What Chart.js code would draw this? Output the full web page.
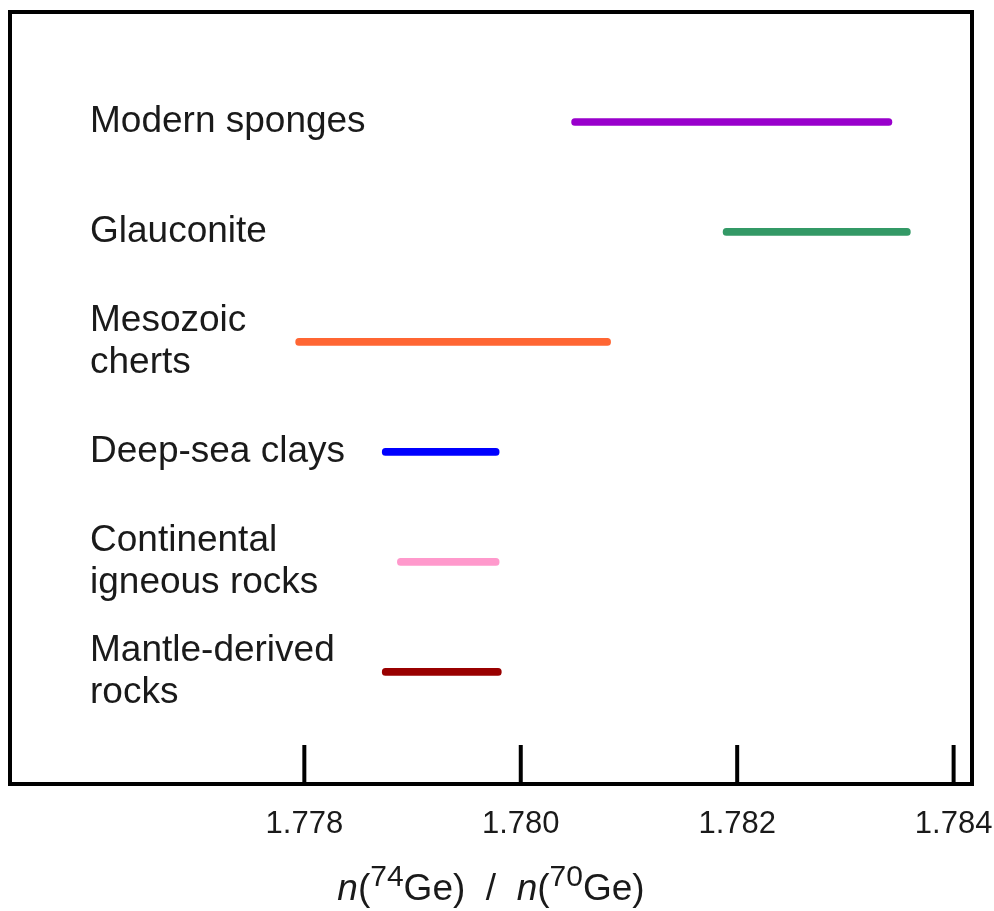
<!DOCTYPE html>
<html>
<head>
<meta charset="utf-8">
<title>Ge isotope ranges</title>
<script src="https://cdn.jsdelivr.net/npm/chart.js@4.4.1/dist/chart.umd.min.js"></script>
<style>
    html, body { margin: 0; padding: 0; background: #fff; }
    canvas { display: block; }
</style>
</head>
<body>
<canvas id="geChart" width="994" height="911"></canvas>
<script>
// Data
const categories = [
    "Modern sponges",
    "Glauconite",
    ["Mesozoic", "cherts"],
    "Deep-sea clays",
    ["Continental", "igneous rocks"],
    ["Mantle-derived", "rocks"],
];
const rangeStart = [1.78047, 1.78187, 1.77792, 1.77872, 1.77886, 1.77872];
const rangeEnd = [1.78343, 1.7836, 1.78083, 1.7798, 1.7798, 1.77982];
const barColors = ["#9900cc", "#339966", "#ff6633", "#0000ff", "#ff99cc", "#990000"];
const xTicks = [1.778, 1.78, 1.782, 1.784];

const textColor = "#1a1a1a";
const fontFamily = "'Liberation Sans', Arial, sans-serif";

// Frame round the plot area and inward tick marks
const framePlugin = {
    id: "frame",
    afterDraw(chart) {
        const { ctx, chartArea } = chart;
        const x = chart.scales.x;
        ctx.save();
        ctx.strokeStyle = "#000";
        ctx.lineWidth = 4;
        xTicks.forEach((v) => {
            const px = x.getPixelForValue(v);
            ctx.beginPath();
            ctx.moveTo(px, chartArea.bottom);
            ctx.lineTo(px, chartArea.bottom - 39);
            ctx.stroke();
        });
        ctx.strokeRect(chartArea.left, chartArea.top, chartArea.right - chartArea.left, chartArea.bottom - chartArea.top);
        ctx.restore();
    },
};

// Axis title with italic n and superscript mass numbers
const titlePlugin = {
    id: "axisTitle",
    afterDraw(chart) {
        const { ctx, chartArea } = chart;
        const main = "37px " + fontFamily;
        const ital = "italic 37px " + fontFamily;
        const sup = "30px " + fontFamily;
        const pieces = [
            [ital, "n", 0], [main, "(", 0], [sup, "74", -14], [main, "Ge)", 0],
            [main, "  /  ", 0],
            [ital, "n", 0], [main, "(", 0], [sup, "70", -14], [main, "Ge)", 0],
        ];
        ctx.save();
        ctx.fillStyle = textColor;
        ctx.textBaseline = "alphabetic";
        let total = 0;
        pieces.forEach((p) => { ctx.font = p[0]; total += ctx.measureText(p[1]).width; });
        let cx = (chartArea.left + chartArea.right) / 2 - total / 2;
        const base = 900;
        pieces.forEach((p) => {
            ctx.font = p[0];
            ctx.fillText(p[1], cx, base + p[2]);
            cx += ctx.measureText(p[1]).width;
        });
        ctx.restore();
    },
};

const ctx = document.getElementById("geChart").getContext("2d");
const geChart = new Chart(ctx, {
    type: "bar",
    data: {
        datasets: [
            {
                data: rangeStart.map((s, i) => ({ x: [s, rangeEnd[i]], y: i + 1 })),
                backgroundColor: barColors,
                barThickness: 7,
                borderRadius: 4,
                borderSkipped: false,
            },
        ],
    },
    options: {
        indexAxis: "y",
        responsive: false,
        animation: false,
        layout: {
            padding: { left: 10, top: 12, right: 22, bottom: 0 },
        },
        plugins: {
            legend: { display: false },
            tooltip: { enabled: false },
        },
        scales: {
            x: {
                type: "linear",
                min: 1.77528,
                max: 1.78417,
                afterBuildTicks: (scale) => {
                    scale.ticks = xTicks.map((v) => ({ value: v }));
                },
                afterFit: (scale) => {
                    scale.height = 127;
                    scale.paddingLeft = 0;
                    scale.paddingRight = 0;
                },
                grid: { display: false, drawTicks: false },
                border: { display: false },
                ticks: {
                    autoSkip: false,
                    maxRotation: 0,
                    padding: 22,
                    color: textColor,
                    font: { family: fontFamily, size: 31 },
                    callback: (v) => Number(v).toFixed(3),
                },
            },
            y: {
                type: "linear",
                reverse: true,
                offset: false,
                min: 0,
                max: 7.02,
                afterBuildTicks: (scale) => {
                    scale.ticks = categories.map((c, i) => ({ value: i + 1 }));
                },
                afterFit: (scale) => {
                    scale.width = 0;
                    scale.paddingTop = 0;
                    scale.paddingBottom = 0;
                },
                grid: { display: false, drawTicks: false },
                border: { display: false },
                ticks: {
                    mirror: true,
                    autoSkip: false,
                    padding: 80,
                    color: textColor,
                    font: { family: fontFamily, size: 37, lineHeight: 1.12 },
                    callback: (v) => categories[v - 1],
                },
            },
        },
    },
    plugins: [framePlugin, titlePlugin],
});
</script>
</body>
</html>
